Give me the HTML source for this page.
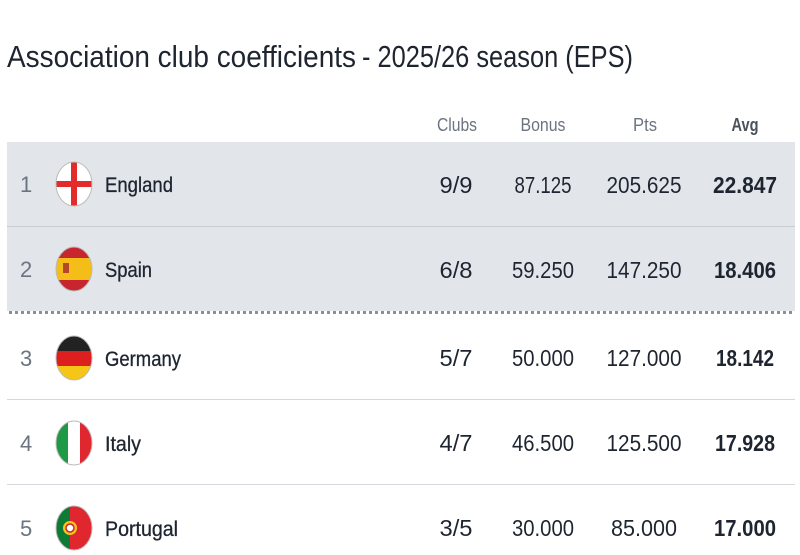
<!DOCTYPE html>
<html><head><meta charset="utf-8"><style>
html,body{margin:0;padding:0;background:#fff;width:800px;height:555px;overflow:hidden}
text{font-family:"Liberation Sans Narrow","Liberation Sans",sans-serif}
</style></head><body>
<svg width="800" height="555" xmlns="http://www.w3.org/2000/svg">
<defs>
<clipPath id="c1"><ellipse cx="74" cy="184" rx="18" ry="22"/></clipPath>
<clipPath id="c2"><ellipse cx="74" cy="269" rx="18" ry="22"/></clipPath>
<clipPath id="c3"><ellipse cx="74" cy="358" rx="18" ry="22"/></clipPath>
<clipPath id="c4"><ellipse cx="74" cy="443" rx="18" ry="22"/></clipPath>
<clipPath id="c5"><ellipse cx="74" cy="528" rx="18" ry="22"/></clipPath>
</defs>
<text x="7" y="67" font-size="31" fill="#1e2530" textLength="349" lengthAdjust="spacingAndGlyphs">Association club coefficients</text>
<text x="362" y="67" font-size="31" fill="#1e2530" font-weight="300" textLength="271" lengthAdjust="spacingAndGlyphs">- 2025/26 season (EPS)</text>
<g font-size="18" fill="#6b7480" text-anchor="middle">
<text x="457" y="131" textLength="40" lengthAdjust="spacingAndGlyphs">Clubs</text><text x="543" y="131" textLength="45" lengthAdjust="spacingAndGlyphs">Bonus</text><text x="645" y="131" textLength="24" lengthAdjust="spacingAndGlyphs">Pts</text>
<text x="745" y="131" font-weight="bold" fill="#4a525c" textLength="27" lengthAdjust="spacingAndGlyphs">Avg</text>
</g>
<rect x="7" y="142" width="788" height="169" fill="#e2e6ea"/>
<line x1="7" y1="226.5" x2="795" y2="226.5" stroke="#c8cdd3"/>
<line x1="9" y1="312.5" x2="795" y2="312.5" stroke="#8a9098" stroke-width="3" stroke-dasharray="3,3"/>
<line x1="7" y1="399.5" x2="795" y2="399.5" stroke="#d4d8dc"/>
<line x1="7" y1="484.5" x2="795" y2="484.5" stroke="#d4d8dc"/>
<g clip-path="url(#c1)"><rect x="50" y="160" width="50" height="50" fill="#fff"/><rect x="71" y="160" width="6" height="50" fill="#e42b2b"/><rect x="50" y="181" width="50" height="6" fill="#e42b2b"/></g>
<ellipse cx="74" cy="184" rx="18" ry="22" fill="none" stroke="#bbb"/>
<g clip-path="url(#c2)"><rect x="50" y="245" width="50" height="50" fill="#c8262e"/><rect x="50" y="258" width="50" height="22" fill="#f5bd18"/><rect x="63" y="263" width="6" height="10" fill="#b5462a"/></g>
<ellipse cx="74" cy="269" rx="18" ry="22" fill="none" stroke="#bbb"/>
<g clip-path="url(#c3)"><rect x="50" y="334" width="50" height="17" fill="#222"/><rect x="50" y="351" width="50" height="15" fill="#dd1f1f"/><rect x="50" y="366" width="50" height="20" fill="#f5c518"/></g>
<ellipse cx="74" cy="358" rx="18" ry="22" fill="none" stroke="#bbb"/>
<g clip-path="url(#c4)"><rect x="50" y="419" width="18" height="50" fill="#1e9a45"/><rect x="68" y="419" width="12" height="50" fill="#fff"/><rect x="80" y="419" width="20" height="50" fill="#e0262e"/></g>
<ellipse cx="74" cy="443" rx="18" ry="22" fill="none" stroke="#bbb"/>
<g clip-path="url(#c5)"><rect x="50" y="504" width="20" height="50" fill="#0f7a36"/><rect x="70" y="504" width="30" height="50" fill="#e0262e"/><circle cx="70" cy="528" r="7" fill="#f5c518"/><circle cx="70" cy="528" r="4" fill="#fff" stroke="#c8262e" stroke-width="1.5"/></g>
<ellipse cx="74" cy="528" rx="18" ry="22" fill="none" stroke="#bbb"/>
<g font-size="22" fill="#6b7480">
<text x="20" y="192">1</text><text x="20" y="277">2</text><text x="20" y="366">3</text><text x="20" y="451">4</text><text x="20" y="536">5</text>
</g>
<g font-size="21" fill="#1e2530" stroke="#1e2530" stroke-width="0.3">
<text x="105" y="192" textLength="68" lengthAdjust="spacingAndGlyphs">England</text>
<text x="105" y="277" textLength="47" lengthAdjust="spacingAndGlyphs">Spain</text>
<text x="105" y="366" textLength="76" lengthAdjust="spacingAndGlyphs">Germany</text>
<text x="105" y="451" textLength="36" lengthAdjust="spacingAndGlyphs">Italy</text>
<text x="105" y="536" textLength="73" lengthAdjust="spacingAndGlyphs">Portugal</text>
</g>
<g font-size="23" fill="#1e2530" font-weight="300" text-anchor="middle">
<text x="456" y="193" textLength="33" lengthAdjust="spacingAndGlyphs">9/9</text><text x="543" y="193" textLength="57" lengthAdjust="spacingAndGlyphs">87.125</text><text x="644" y="193" textLength="75" lengthAdjust="spacingAndGlyphs">205.625</text>
<text x="456" y="278" textLength="33" lengthAdjust="spacingAndGlyphs">6/8</text><text x="543" y="278" textLength="62" lengthAdjust="spacingAndGlyphs">59.250</text><text x="644" y="278" textLength="75" lengthAdjust="spacingAndGlyphs">147.250</text>
<text x="456" y="366" textLength="33" lengthAdjust="spacingAndGlyphs">5/7</text><text x="543" y="366" textLength="62" lengthAdjust="spacingAndGlyphs">50.000</text><text x="644" y="366" textLength="75" lengthAdjust="spacingAndGlyphs">127.000</text>
<text x="456" y="451" textLength="33" lengthAdjust="spacingAndGlyphs">4/7</text><text x="543" y="451" textLength="62" lengthAdjust="spacingAndGlyphs">46.500</text><text x="644" y="451" textLength="75" lengthAdjust="spacingAndGlyphs">125.500</text>
<text x="456" y="536" textLength="33" lengthAdjust="spacingAndGlyphs">3/5</text><text x="543" y="536" textLength="62" lengthAdjust="spacingAndGlyphs">30.000</text><text x="644" y="536" textLength="66" lengthAdjust="spacingAndGlyphs">85.000</text>
</g>
<g font-size="23" fill="#1e2530" font-weight="bold" text-anchor="middle">
<text x="745" y="193" textLength="64" lengthAdjust="spacingAndGlyphs">22.847</text><text x="745" y="278" textLength="62" lengthAdjust="spacingAndGlyphs">18.406</text><text x="745" y="366" textLength="58" lengthAdjust="spacingAndGlyphs">18.142</text><text x="745" y="451" textLength="60" lengthAdjust="spacingAndGlyphs">17.928</text><text x="745" y="536" textLength="62" lengthAdjust="spacingAndGlyphs">17.000</text>
</g>
</svg>
</body></html>
